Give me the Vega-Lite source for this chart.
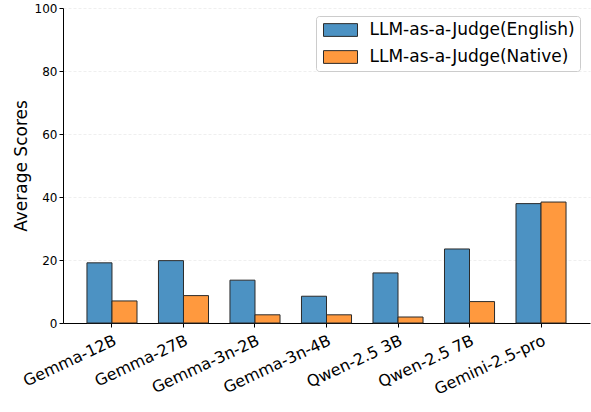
{
  "$schema": "https://vega.github.io/schema/vega-lite/v6.json",
  "width": 527,
  "height": 315,
  "autosize": {"type": "none"},
  "padding": {"left": 63, "top": 8, "right": 1, "bottom": 89},
  "background": "white",
  "config": {
    "font": "DejaVu Sans",
    "view": {"stroke": null}
  },
  "data": {
    "values": [
      {"model": "Gemma-12B", "judge": "LLM-as-a-Judge(English)", "score": 19.1},
      {"model": "Gemma-12B", "judge": "LLM-as-a-Judge(Native)", "score": 7.0},
      {"model": "Gemma-27B", "judge": "LLM-as-a-Judge(English)", "score": 19.8},
      {"model": "Gemma-27B", "judge": "LLM-as-a-Judge(Native)", "score": 8.7},
      {"model": "Gemma-3n-2B", "judge": "LLM-as-a-Judge(English)", "score": 13.6},
      {"model": "Gemma-3n-2B", "judge": "LLM-as-a-Judge(Native)", "score": 2.6},
      {"model": "Gemma-3n-4B", "judge": "LLM-as-a-Judge(English)", "score": 8.5},
      {"model": "Gemma-3n-4B", "judge": "LLM-as-a-Judge(Native)", "score": 2.6},
      {"model": "Qwen-2.5 3B", "judge": "LLM-as-a-Judge(English)", "score": 15.9},
      {"model": "Qwen-2.5 3B", "judge": "LLM-as-a-Judge(Native)", "score": 1.9},
      {"model": "Qwen-2.5 7B", "judge": "LLM-as-a-Judge(English)", "score": 23.5},
      {"model": "Qwen-2.5 7B", "judge": "LLM-as-a-Judge(Native)", "score": 6.8},
      {"model": "Gemini-2.5-pro", "judge": "LLM-as-a-Judge(English)", "score": 37.9},
      {"model": "Gemini-2.5-pro", "judge": "LLM-as-a-Judge(Native)", "score": 38.4}
    ]
  },
  "mark": {"type": "bar", "stroke": "#2b2b2b", "strokeWidth": 1},
  "encoding": {
    "x": {
      "field": "model",
      "type": "nominal",
      "sort": null,
      "scale": {"paddingInner": 0.3, "paddingOuter": 0.335},
      "axis": {
        "title": null,
        "labelAngle": -25,
        "labelAlign": "right",
        "labelBaseline": "top",
        "labelFontSize": 16,
        "labelColor": "black",
        "labelPadding": 5,
        "labelLimit": 300,
        "domainColor": "black",
        "tickColor": "black",
        "tickSize": 4,
        "grid": false
      }
    },
    "xOffset": {"field": "judge", "type": "nominal"},
    "y": {
      "field": "score",
      "type": "quantitative",
      "scale": {"domain": [0, 100], "nice": false},
      "axis": {
        "title": "Average Scores",
        "titleFontSize": 17,
        "titleFontWeight": "normal",
        "titleColor": "black",
        "titlePadding": 4,
        "values": [0, 20, 40, 60, 80, 100],
        "labelFontSize": 12,
        "labelColor": "black",
        "domainColor": "black",
        "tickColor": "black",
        "tickSize": 4,
        "grid": true,
        "gridColor": "#ebebeb",
        "gridDash": [3, 2],
        "gridWidth": 0.8
      }
    },
    "fill": {
      "field": "judge",
      "type": "nominal",
      "scale": {"range": ["#4c92c3", "#ff993e"]},
      "legend": {
        "title": null,
        "orient": "none",
        "legendX": 253,
        "legendY": 8,
        "labelFontSize": 17,
        "labelColor": "black",
        "labelLimit": 400,
        "symbolType": "M-2,-0.75H2V0.75H-2Z",
        "symbolSize": 289,
        "symbolOffset": 10.5,
        "symbolStrokeColor": "#2b2b2b",
        "symbolStrokeWidth": 1,
        "symbolOpacity": 1,
        "labelOffset": 20,
        "rowPadding": 9,
        "padding": 5,
        "fillColor": "white",
        "strokeColor": "#cccccc",
        "cornerRadius": 3
      }
    }
  }
}
